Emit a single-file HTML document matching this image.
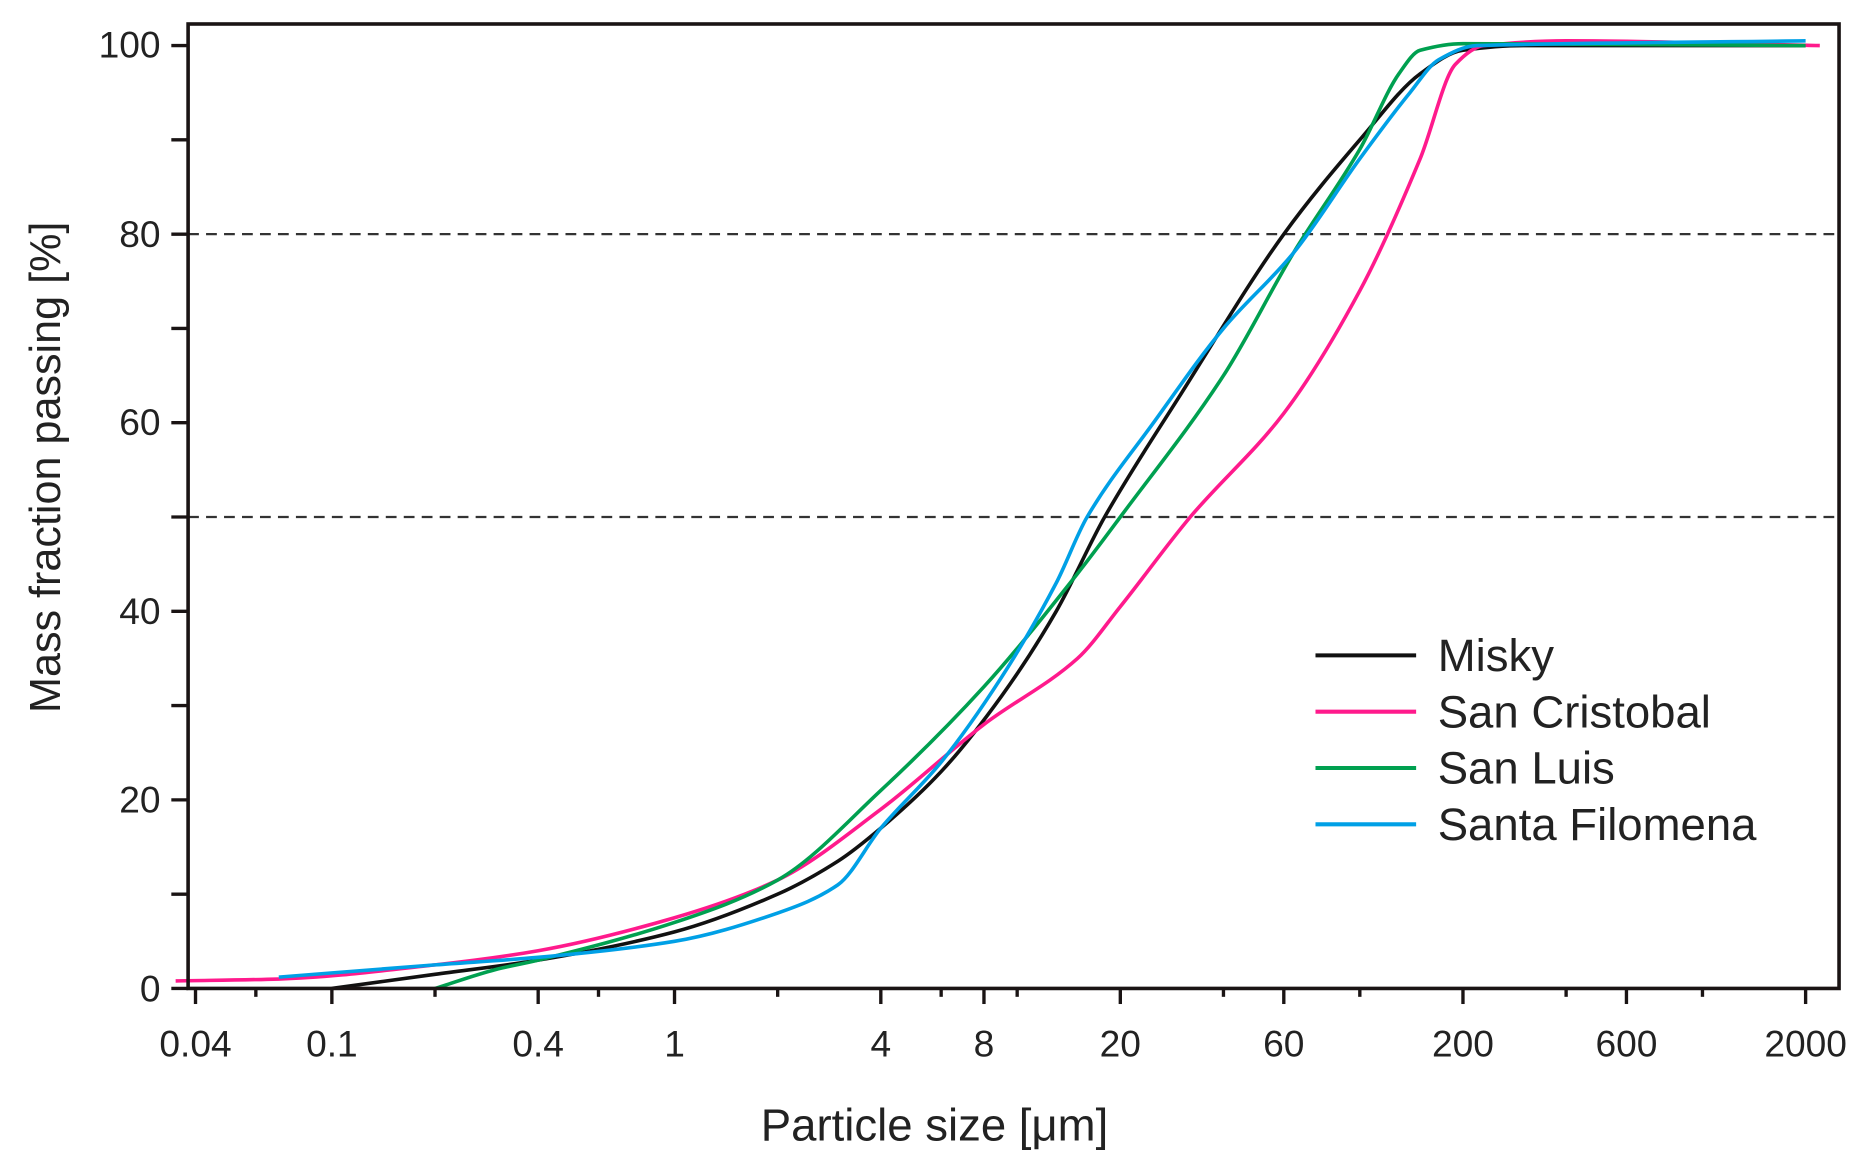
<!DOCTYPE html>
<html><head><meta charset="utf-8"><style>
html,body{margin:0;padding:0;background:#fff;}
svg{display:block;}
text{font-family:"Liberation Sans",sans-serif;fill:#222;}
</style></head><body>
<svg id="s" width="1869" height="1161" viewBox="0 0 1560 969" xmlns="http://www.w3.org/2000/svg">
<g id="dash" stroke="#333" stroke-width="1.8" stroke-dasharray="9,6">
<line x1="157" y1="195.4" x2="1535" y2="195.4"/>
<line x1="157" y1="431.5" x2="1535" y2="431.5"/>
</g>
<g id="curves" fill="none" stroke-width="3" stroke-linejoin="round"></g>
<rect x="157" y="20" width="1378" height="805" fill="none" stroke="#1a1414" stroke-width="3"/>
<g id="ticks" stroke="#1a1414" stroke-width="2.8"></g>
<g font-size="31" text-anchor="end">
<text x="134" y="836">0</text><text x="134" y="678">20</text><text x="134" y="521">40</text>
<text x="134" y="363">60</text><text x="134" y="206">80</text><text x="134" y="48">100</text>
</g>
<g font-size="31" text-anchor="middle" id="xl"></g>
<text x="780" y="952" font-size="38" text-anchor="middle">Particle size [μm]</text>
<text transform="translate(50,390) rotate(-90)" font-size="36" text-anchor="middle">Mass fraction passing [%]</text>
<g stroke-width="3.4">
<line x1="1098" y1="547" x2="1182" y2="547" stroke="#111"/>
<line x1="1098" y1="594" x2="1182" y2="594" stroke="#ff1a8c"/>
<line x1="1098" y1="641" x2="1182" y2="641" stroke="#00a050"/>
<line x1="1098" y1="688" x2="1182" y2="688" stroke="#00a0e6"/>
</g>
<g font-size="38">
<text x="1200" y="560">Misky</text><text x="1200" y="607">San Cristobal</text>
<text x="1200" y="654">San Luis</text><text x="1200" y="701">Santa Filomena</text>
</g>
</svg>
<script>
var X=function(v){return 563+286*Math.log10(v)},Y=function(p){return 825-7.87*p};
var NS="http://www.w3.org/2000/svg";
var series=[
["#111",[[0.1,0],[0.2,1.5],[0.4,3],[1,6],[2,10],[3,13.5],[4,17],[6,23],[9,31],[13,40],[18,50],[30,63],[60,80],[100,90],[150,97],[200,99.5],[300,100],[2000,100]]],
["#ff1a8c",[[0.035,0.8],[0.07,1],[0.2,2.5],[0.4,4],[1,7.5],[2,11.5],[4,19],[8,28],[15,35],[20,40.5],[32,50],[60,61],[100,74],[150,88],[190,98],[230,100],[400,100.5],[2200,100]]],
["#00a050",[[0.2,0],[0.3,2],[0.4,3],[1,7],[2,11.5],[4,21],[8,32],[15,44],[20,50],[40,65],[64,78],[100,89],[130,97],[150,99.5],[200,100.2],[2000,100]]],
["#00a0e6",[[0.07,1.2],[0.2,2.5],[0.4,3.3],[1,5],[2,8],[3,11],[4,17],[6,24],[9,33],[13,43],[16,50],[25,60],[40,70],[64,78],[100,88],[140,95],[170,98.5],[220,100],[2000,100.5]]]];
var g=document.getElementById("curves");
series.forEach(function(s){var p=s[1].map(function(d){return [X(d[0]),Y(d[1])]});
var n=p.length,dl=[],m=[];
for(var i=0;i<n-1;i++)dl.push((p[i+1][1]-p[i][1])/(p[i+1][0]-p[i][0]));
for(var i=0;i<n;i++){if(i==0)m.push(dl[0]);else if(i==n-1)m.push(dl[n-2]);else if(dl[i-1]*dl[i]<=0)m.push(0);else m.push(2/(1/dl[i-1]+1/dl[i]));}
var d="M"+p[0][0]+","+p[0][1];
for(var i=0;i<n-1;i++){var h=(p[i+1][0]-p[i][0])/3;
d+="C"+(p[i][0]+h)+","+(p[i][1]+m[i]*h)+" "+(p[i+1][0]-h)+","+(p[i+1][1]-m[i+1]*h)+" "+p[i+1][0]+","+p[i+1][1];}
var el=document.createElementNS(NS,"path");el.setAttribute("d",d);el.setAttribute("stroke",s[0]);g.appendChild(el);});
var t=document.getElementById("ticks"),xl=document.getElementById("xl");
function ln(x1,y1,x2,y2){var l=document.createElementNS(NS,"line");l.setAttribute("x1",x1);l.setAttribute("y1",y1);l.setAttribute("x2",x2);l.setAttribute("y2",y2);t.appendChild(l);}
for(var p=0;p<=100;p+=10)ln(143,Y(p),157,Y(p));
[0.04,0.1,0.4,1,4,8,20,60,200,600,2000].forEach(function(v){ln(X(v),825,X(v),838);
var tx=document.createElementNS(NS,"text");tx.setAttribute("x",X(v));tx.setAttribute("y",882);tx.textContent=String(v);xl.appendChild(tx);});
[0.06,0.2,0.6,2,6,10,40,100,400,1000].forEach(function(v){ln(X(v),825,X(v),832);});
</script>
</body></html>
